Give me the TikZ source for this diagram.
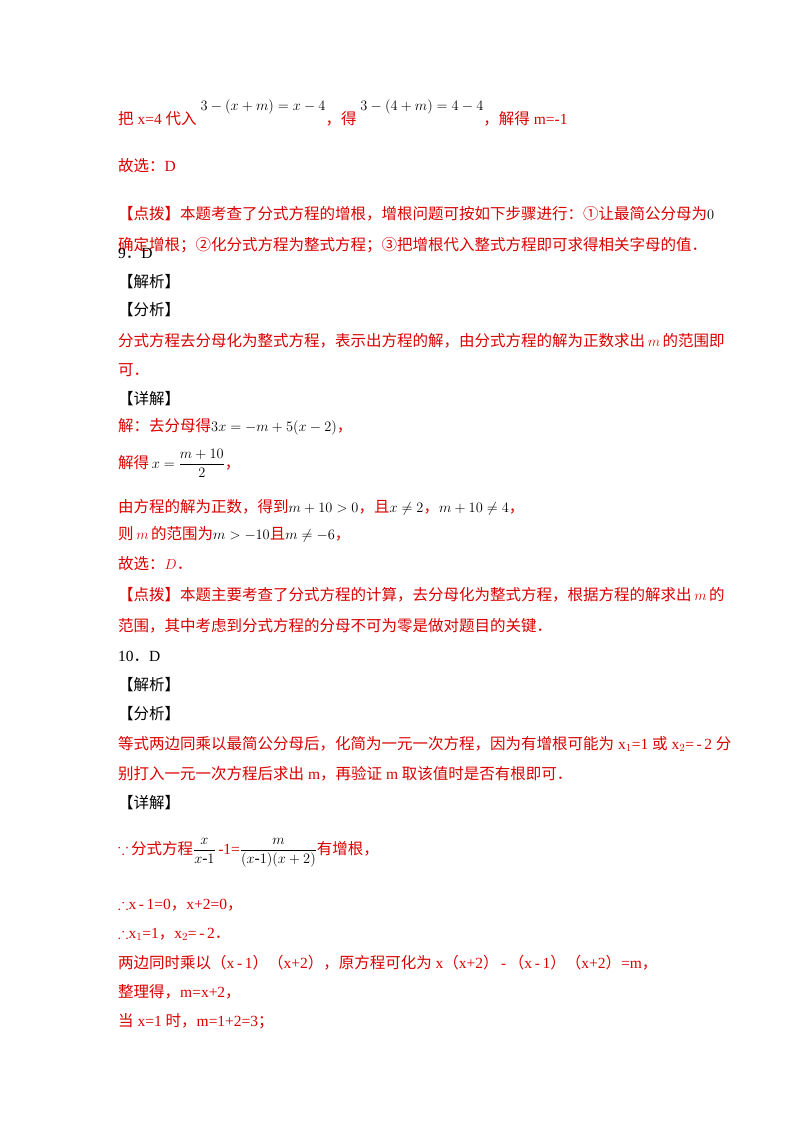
\documentclass[tikz,border=0pt]{standalone}
\usepackage{amsmath,amssymb}
\usepackage{fontspec}
\setmainfont{Liberation Serif}
\newfontfamily\cjk{Noto Sans CJK SC}
\begin{document}
\begin{tikzpicture}[x=1pt,y=-1pt,
  rt/.style={anchor=base west,inner sep=0pt,text=red!85!black,font=\fontsize{15.5}{18}\selectfont},
  bk/.style={rt,text=black}]
\useasboundingbox (0,0) rectangle (800,1132);
\newcommand\C[1]{{\cjk #1}}
\newcommand\M[1]{\textcolor{black}{$#1$}}
\node[rt] (l1) at (118,124) {\C{把} x=4 \C{代入} \raisebox{14pt}{\M{3-(x+m)=x-4}}\C{，得} \raisebox{14pt}{\M{3-(4+m)=4-4}}\C{，解得} m=-1};
\node[rt] (l2) at (118,171) {\C{故选：}D};
\node[rt] (l3) at (118,219) {\C{【点拨】本题考查了分式方程的增根，增根问题可按如下步骤进行：①让最简公分母为}\M{0}};
\node[rt] (l4) at (118,250) {\C{确定增根；②化分式方程为整式方程；③把增根代入整式方程即可求得相关字母的值．}};
\node[bk] (l5) at (118,258) {9\C{．}D};
\node[bk] (l6) at (118,287) {\C{【解析】}};
\node[bk] (l7) at (118,315) {\C{【分析】}};
\node[rt] (l8) at (118,346) {\C{分式方程去分母化为整式方程，表示出方程的解，由分式方程的解为正数求出}\,$m$\,\C{的范围即}};
\node[rt] (l9) at (118,375) {\C{可．}};
\node[bk] (l10) at (118,404) {\C{【详解】}};
\node[rt] (l11) at (118,431) {\C{解：去分母得}\M{3x=-m+5(x-2)}\C{，}};
\node[rt] (l12) at (118,468) {\C{解得}\,\M{x=\dfrac{m+10}{2}}\C{，}};
\node[rt] (l13) at (118,512) {\C{由方程的解为正数，得到}\M{m+10>0}\C{，且}\M{x\neq 2}\C{，}\M{m+10\neq 4}\C{，}};
\node[rt] (l14) at (118,539) {\C{则}\,$m$\,\C{的范围为}\M{m>-10}\C{且}\M{m\neq -6}\C{，}};
\node[rt] (l15) at (118,569) {\C{故选：}$D$\C{．}};
\node[rt] (l16) at (118,600) {\C{【点拨】本题主要考查了分式方程的计算，去分母化为整式方程，根据方程的解求出}\,$m$\,\C{的}};
\node[rt] (l17) at (118,631) {\C{范围，其中考虑到分式方程的分母不可为零是做对题目的关键．}};
\node[bk] (l18) at (118,661) {10\C{．}D};
\node[bk] (l19) at (118,690) {\C{【解析】}};
\node[bk] (l20) at (118,719) {\C{【分析】}};
\node[rt] (l21) at (118,749) {\C{等式两边同乘以最简公分母后，化简为一元一次方程，因为有增根可能为} x$_1$=1 \C{或} x$_2$=\,-\,2 \C{分}};
\node[rt] (l22) at (118,779) {\C{别打入一元一次方程后求出} m\C{，再验证} m \C{取该值时是否有根即可．}};
\node[bk] (l23) at (118,808) {\C{【详解】}};
\node[rt] (l24) at (118,854) {$\because$\,\C{分式方程}\M{\dfrac{x}{x\text{-}1}}\,-1=\M{\dfrac{m}{(x\text{-}1)(x+2)}}\C{有增根，}};
\node[rt] (l25) at (118,909) {$\therefore$x\,-\,1=0\C{，}x+2=0\C{，}};
\node[rt] (l26) at (118,938) {$\therefore$x$_1$=1\C{，}x$_2$=\,-\,2\C{．}};
\node[rt] (l27) at (118,968) {\C{两边同时乘以（}x\,-\,1\C{）（}x+2\C{），原方程可化为} x\C{（}x+2\C{）}\,-\,\C{（}x\,-\,1\C{）（}x+2\C{）}=m\C{，}};
\node[rt] (l28) at (118,997) {\C{整理得，}m=x+2\C{，}};
\node[rt] (l29) at (118,1026) {\C{当} x=1 \C{时，}m=1+2=3\C{；}};
\end{tikzpicture}
\end{document}
